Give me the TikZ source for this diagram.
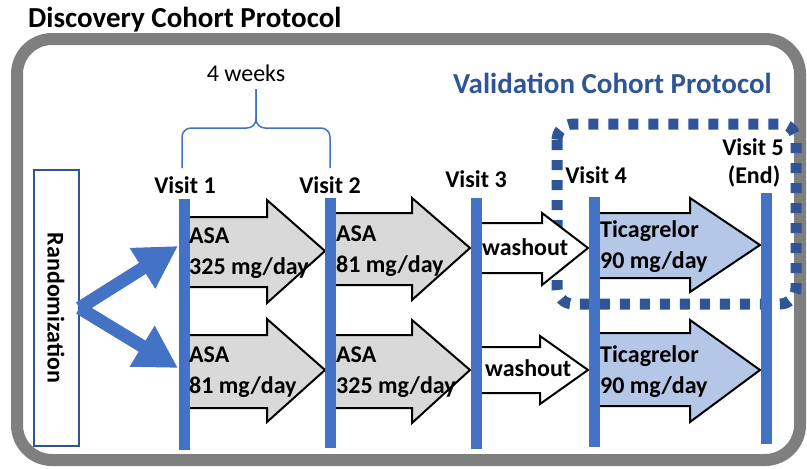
\documentclass[tikz,border=0pt]{standalone}
\usepackage{fontspec}
\setmainfont{Carlito}
\usepackage{xcolor}
\usetikzlibrary{arrows.meta,positioning}

\definecolor{barblue}{HTML}{4472C4}
\definecolor{darkblue}{HTML}{2F5597}
\definecolor{asagray}{HTML}{D9D9D9}
\definecolor{ticablue}{HTML}{B4C7E7}
\definecolor{framegray}{HTML}{7F7F7F}

\begin{document}
\begin{tikzpicture}[x=1pt,y=-1pt,
    lbl/.style={font=\fontsize{24}{28}\selectfont\bfseries, inner sep=0pt},
    heading/.style={font=\fontsize{29}{34}\selectfont\bfseries, inner sep=0pt, anchor=base west},
    blockarrow/.style={draw=black, line width=2pt, line join=miter},
    randarrow/.style={barblue, line width=13pt, -{Triangle[length=42pt,width=45pt]}},
    bracestyle/.style={barblue, line width=1.5pt, rounded corners=9pt}]
    \useasboundingbox (0,0) rectangle (807,469);

    % Discovery cohort frame
    \draw[framegray, line width=12pt, rounded corners=35pt] (17,39) rectangle (800,460);
    \node[heading] (disc) at (28,27) {Discovery Cohort Protocol};

    % Validation cohort box
    \draw[darkblue, line width=11pt, dash pattern=on 10pt off 10pt, rounded corners=16pt] (557,124) rectangle (796,304);
    \node[heading, text=darkblue] (valid) at (453,93) {Validation Cohort Protocol};

    % 4 weeks brace
    \draw[bracestyle] (182,168) |- (256,128) -- (256,89);
    \draw[bracestyle] (330,168) |- (256,128) -- (256,89);
    \node[lbl, font=\fontsize{24}{28}\selectfont, anchor=base] (weeks) at (246,81) {4 weeks};

    % Block arrows
    \foreach \x/\bt/\bb/\hx/\ht/\hb/\tx/\ty/\col in {
        184/217/287/267/200/303/325/251/asagray, 330/213/285/412/198/300/470/248/asagray,
        476/223/273/542/213/285/588/248/white,   594/213/278/690/198/292/760/245/ticablue,
        184/335/408/267/319/422/325/370/asagray, 330/335/408/412/320/423/470/370/asagray,
        476/347/393/540/336/404/588/370/white,   594/333/406/690/320/422/760/370/ticablue} {
        \draw[blockarrow, fill=\col] (\x,\bt) -- (\hx,\bt) -- (\hx,\ht) -- (\tx,\ty)
            -- (\hx,\hb) -- (\hx,\bb) -- (\x,\bb) -- cycle;
    }

    % Visits
    \foreach \n/\x/\t/\b in {v1/184/199/450, v2/330/198/448, v3/476/198/449, v4/594/197/447, v5/766/193/444} {
        \fill[barblue] (\x-5.5,\t) rectangle (\x+5.5,\b);
    }
    \node[lbl, anchor=base] (visit1) at (185,193) {Visit 1};
    \node[lbl, anchor=base] (visit2) at (330,193) {Visit 2};
    \node[lbl, anchor=base] (visit3) at (476,187) {Visit 3};
    \node[lbl, anchor=base] (visit4) at (596,183) {Visit 4};
    \node[lbl, anchor=base] (visit5) at (753,155) {Visit 5};
    \node[lbl, anchor=base] (visitend) at (754,183) {(End)};

    % Treatments
    \foreach \n/\x/\y/\a/\b in {
        tA/189/243/ASA/325 mg\slash day, tB/336/241/ASA/81 mg\slash day,
        bA/189/362/ASA/81 mg\slash day,  bB/336/362/ASA/325 mg\slash day,
        tT/600/237/Ticagrelor/90 mg\slash day, bT/600/362/Ticagrelor/90 mg\slash day} {
        \node[lbl, anchor=base west] (\n a) at (\x,\y) {\a};
        \node[lbl, anchor=base west] (\n b) at (\x,\y+31) {\b};
    }
    \node[lbl, anchor=base west] (wash1) at (482,255) {washout};
    \node[lbl, anchor=base west] (wash2) at (485,376) {washout};

    % Randomization
    \node[lbl, draw=darkblue, line width=2pt, rotate=-90, minimum width=276pt, minimum height=45pt] (rand) at (56,308) {Randomization};
    \coordinate (armup) at (178,246);
    \coordinate (armdown) at (178,368);
    \draw[randarrow] (rand.north) -- (armup);
    \draw[randarrow] (rand.north) -- (armdown);
\end{tikzpicture}
\end{document}
